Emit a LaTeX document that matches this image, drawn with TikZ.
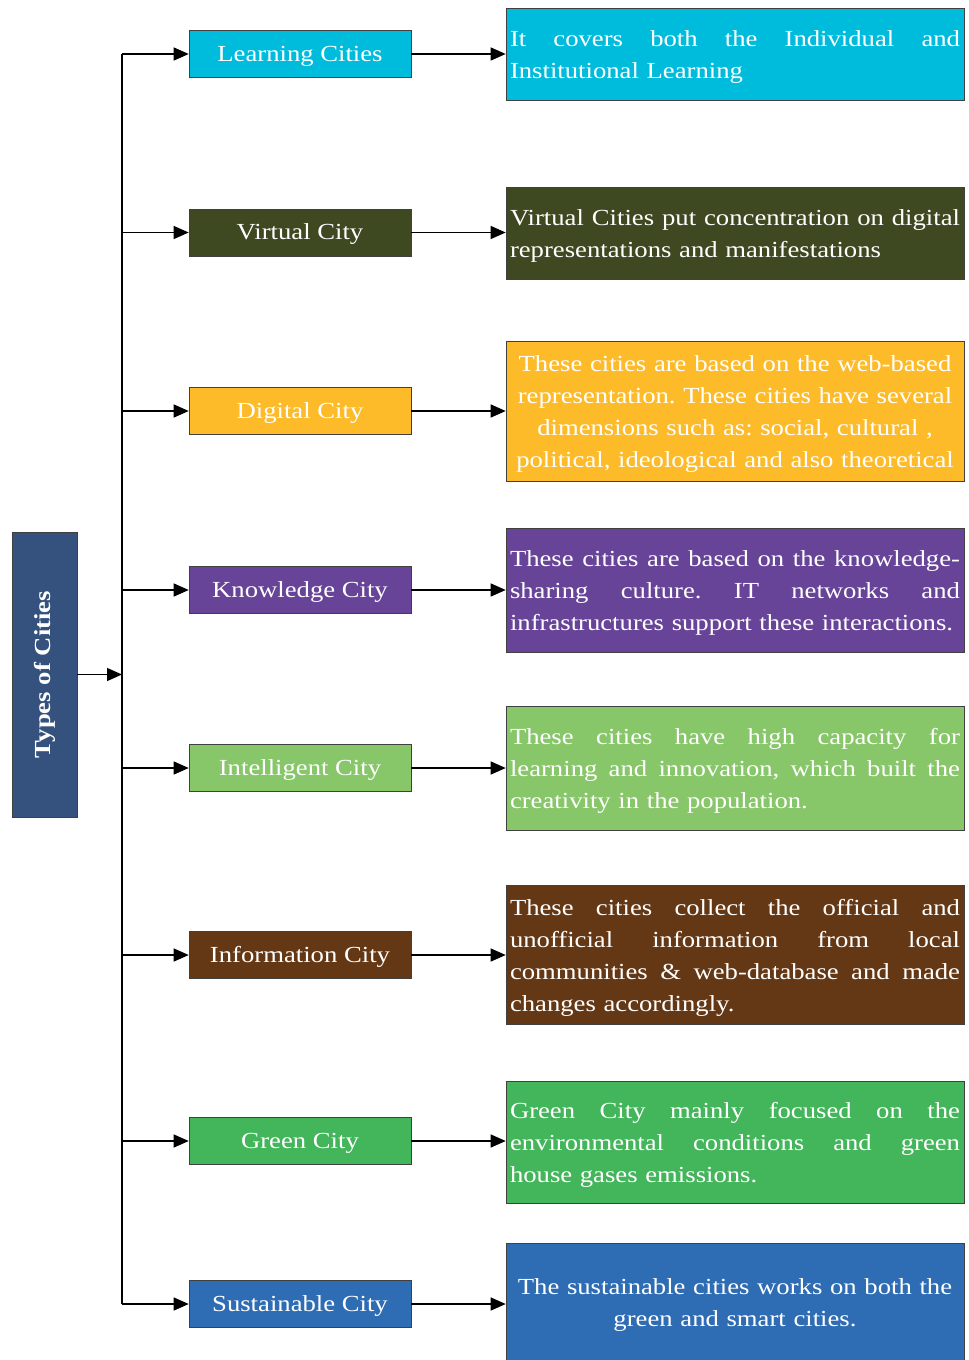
\documentclass[tikz,border=0pt]{standalone}
\usepackage{fontspec}
\setmainfont[FakeStretch=1.16]{Liberation Serif}
\usetikzlibrary{arrows.meta,calc}
\definecolor{cRoot}{RGB}{52,82,125}
\definecolor{cLearn}{RGB}{0,188,220}
\definecolor{cVirt}{RGB}{62,72,33}
\definecolor{cDig}{RGB}{253,187,42}
\definecolor{cKnow}{RGB}{104,68,152}
\definecolor{cIntel}{RGB}{136,198,106}
\definecolor{cInfo}{RGB}{101,56,21}
\definecolor{cGreen}{RGB}{67,181,90}
\definecolor{cSust}{RGB}{46,109,180}
\frenchspacing
\newcommand{\jl}[1]{\leavevmode\hbox to 450pt{\frenchspacing\spaceskip=0.25em plus 1fil\relax #1}}
\begin{document}
\begin{tikzpicture}[x=1pt,y=-1pt,
  box/.style={draw=black!75, line width=0.6pt, text=white, inner sep=0pt,
    font=\fontsize{23}{32}\selectfont\frenchspacing},
  mid/.style={box, minimum width=222pt, minimum height=47pt, text height=16pt, text depth=2pt},
  desc/.style={box, minimum width=458pt, text width=450pt, text height=22pt},
  arr/.style={line width=1.3pt, -{Triangle[length=15pt,width=13pt]}},
  trunkline/.style={line width=1.3pt},
]
\useasboundingbox (0,0) rectangle (969,1360);

% root
\node[box, fill=cRoot, minimum width=65pt, minimum height=285pt,
  font=\fontsize{23}{32}\selectfont\bfseries] (root) at (44.5,674.5)
  {\rotatebox{90}{Types of Cities}};

% middle boxes
\node[mid, fill=cLearn] (m1) at (300,54) {Learning Cities};
\node[mid, fill=cVirt]  (m2) at (300,232.5) {Virtual City};
\node[mid, fill=cDig]   (m3) at (300,411) {Digital City};
\node[mid, fill=cKnow]  (m4) at (300,590) {Knowledge City};
\node[mid, fill=cIntel] (m5) at (300,768) {Intelligent City};
\node[mid, fill=cInfo]  (m6) at (300,955) {Information City};
\node[mid, fill=cGreen] (m7) at (300,1141) {Green City};
\node[mid, fill=cSust]  (m8) at (300,1304) {Sustainable City};

% description boxes
\node[desc, fill=cLearn, minimum height=92pt, align=left] (r1) at (735,54)
  {\jl{It covers both the Individual and}\\Institutional Learning};
\node[desc, fill=cVirt, minimum height=92pt, align=left] (r2) at (735,233)
  {\jl{Virtual Cities put concentration on digital}\\representations and manifestations};
\node[desc, fill=cDig, minimum height=140pt, align=center] (r3) at (735,411)
  {These cities are based on the web-based\\representation. These cities have several\\dimensions such as: social, cultural ,\\political, ideological and also theoretical};
\node[desc, fill=cKnow, minimum height=124pt, align=left] (r4) at (735,590)
  {\jl{These cities are based on the knowledge-}\\\jl{sharing culture. IT networks and}\\infrastructures support these interactions.};
\node[desc, fill=cIntel, minimum height=124pt, align=left] (r5) at (735,768)
  {\jl{These cities have high capacity for}\\\jl{learning and innovation, which built the}\\creativity in the population.};
\node[desc, fill=cInfo, minimum height=139pt, align=left] (r6) at (735,954.5)
  {\jl{These cities collect the official and}\\\jl{unofficial information from local}\\\jl{communities \& web-database and made}\\changes accordingly.};
\node[desc, fill=cGreen, minimum height=122pt, align=left] (r7) at (735,1142)
  {\jl{Green City mainly focused on the}\\\jl{environmental conditions and green}\\house gases emissions.};
\node[desc, fill=cSust, minimum height=117pt, align=center] (r8) at (735,1301.5)
  {The sustainable cities works on both the\\green and smart cities.};

% trunk
\coordinate (tTop) at (122,54);
\coordinate (tMid) at (122,1105);
\coordinate (tBot) at (122,1304);
\draw[trunkline] (tTop) -- (tMid);
\draw[line width=2.4pt] (tMid) -- (tBot);

\draw[arr] (root.east) -- (root.east -| tTop);

\foreach \i in {1,...,8}{
  \draw[arr] (m\i.west -| tTop) -- (m\i.west);
  \draw[arr] (m\i.east) -- (m\i.east -| r\i.west);
}
\end{tikzpicture}
\end{document}
